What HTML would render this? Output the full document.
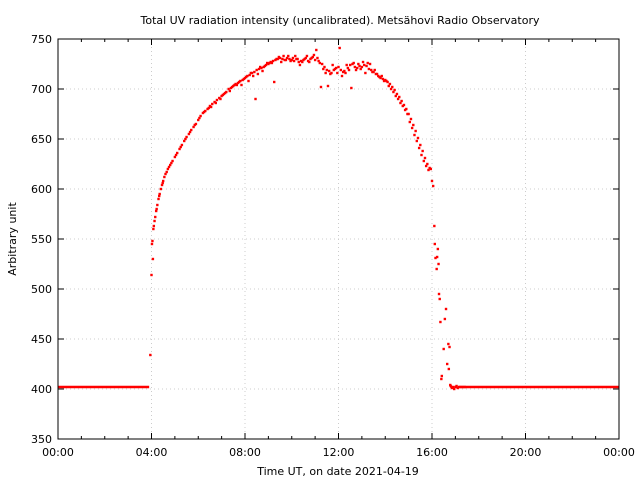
<!DOCTYPE html>
<html><head><meta charset="utf-8">
<style>
body{margin:0;background:#fff;}
svg{display:block;font-family:"DejaVu Sans","Liberation Sans",sans-serif;}
</style></head>
<body>
<svg id="chart" width="640" height="480">
<rect width="640" height="480" fill="#fff"/>
<text x="340" y="24" font-size="11" text-anchor="middle">Total UV radiation intensity (uncalibrated). Metsähovi Radio Observatory</text>
<text x="338" y="475" font-size="11" text-anchor="middle">Time UT, on date 2021-04-19</text>
<text transform="translate(16,239) rotate(-90)" font-size="11" text-anchor="middle">Arbitrary unit</text>
<g id="grid"></g><g id="ticks"></g><g id="marks"></g>
<rect x="58" y="39" width="561" height="400" fill="none" stroke="#000" stroke-width="1"/>
</svg>
<script>
const xTickLabels=["00:00","04:00","08:00","12:00","16:00","20:00","00:00"];
const xTickHours=[0,4,8,12,16,20,24];
const yTicks=[350,400,450,500,550,600,650,700,750];
const baselineStart=[0,17.1];
const baselineEnd=[3.9,24];
const baselineValue=[402,402];
const dayTimes=[3.95,4.0,4.02,4.04,4.06,4.08,4.1,4.13,4.16,4.2,4.25,4.3,4.35,4.4,4.45,4.5,4.55,4.6,4.7,4.8,4.9,5.0,5.1,5.2,5.3,5.4,5.5,5.6,5.7,5.8,5.9,6.0,6.1,6.2,6.3,6.4,6.5,6.6,6.7,6.8,6.9,7.0,7.1,7.2,7.3,7.4,7.5,7.6,7.7,7.8,7.9,8.0,8.1,8.2,8.3,8.4,8.45,8.5,8.6,8.7,8.8,8.9,9.0,9.1,9.2,9.25,9.3,9.4,9.5,9.6,9.7,9.8,9.9,10.0,10.1,10.2,10.3,10.4,10.5,10.6,10.7,10.8,10.9,11.0,11.05,11.1,11.2,11.25,11.3,11.4,11.5,11.55,11.6,11.7,11.8,11.9,12.0,12.05,12.1,12.2,12.3,12.4,12.5,12.55,12.6,12.7,12.8,12.9,13.0,13.1,13.2,13.3,13.4,13.5,13.6,13.7,13.8,13.9,14.0,14.1,14.2,14.3,14.4,14.5,14.6,14.7,14.8,14.9,15.0,15.1,15.2,15.3,15.4,15.5,15.6,15.7,15.8,15.9,16.0,16.05,16.1,16.12,16.15,16.2,16.22,16.25,16.28,16.3,16.33,16.36,16.4,16.42,16.5,16.55,16.6,16.65,16.7,16.72,16.75,16.78,16.8,16.83,16.86,16.9,16.95,17.0,17.05,17.1,17.2,17.3,17.4,17.5,17.6,17.7,17.8,17.9];
const dayValues=[434,514,545,548,530,560,563,568,572,578,584,590,595,600,604,608,612,615,620,624,628,632,636,640,644,648,652,655,659,662,665,669,673,676,678,680,683,685,687,689,691,693,695,697,700,701,703,705,706,708,709,711,713,714,716,717,690,719,720,721,722,724,725,727,728,707,729,730,731,730,729,731,730,729,728,730,727,728,729,731,728,730,732,729,739,731,726,702,725,722,719,703,718,716,719,721,722,741,719,717,716,721,724,701,725,722,721,723,722,724,723,720,719,717,715,713,711,710,709,707,705,702,699,695,692,688,684,680,675,670,664,658,651,644,638,631,625,621,608,603,563,545,531,520,532,540,525,495,490,467,410,413,440,470,480,425,445,420,442,404,403,402,401,402,400,402,403,401,402,402,402];
const extraTimes=[4.22,4.33,4.48,4.65,4.75,4.85,5.05,5.25,5.45,5.65,5.85,6.05,6.25,6.45,6.55,6.75,6.95,7.05,7.15,7.35,7.45,7.55,7.65,7.75,7.85,7.95,8.05,8.15,8.25,8.35,8.55,8.65,8.75,8.85,8.95,9.05,9.15,9.35,9.45,9.55,9.65,9.75,9.85,9.95,10.05,10.15,10.25,10.35,10.45,10.55,10.65,10.75,10.85,10.95,11.15,11.35,11.45,11.65,11.75,11.85,11.95,12.15,12.25,12.35,12.45,12.65,12.75,12.85,12.95,13.05,13.15,13.25,13.35,13.45,13.55,13.65,13.75,13.85,13.95,14.05,14.15,14.25,14.35,14.45,14.55,14.65,14.75,14.85,14.95,15.05,15.15,15.25,15.35,15.45,15.55,15.65,15.75,15.85,15.95];
const extraValues=[580,593,606,617,622,626,634,642,650,657,664,671,677,681,682,686,690,694,696,698,702,704,704,707,704,710,712,708,716,713,715,722,718,723,726,726,726,730,732,727,733,729,733,728,731,733,730,724,727,730,733,727,731,734,728,720,716,715,724,720,716,713,718,724,719,726,719,725,720,727,716,726,725,717,719,715,712,713,708,708,703,700,697,693,690,686,683,679,675,667,661,654,648,641,634,628,623,619,620];
const X=h=>58+h*(561/24);
const Y=v=>439-(v-350);
const ns="http://www.w3.org/2000/svg";
const grid=document.getElementById('grid'),ticks=document.getElementById('ticks'),marks=document.getElementById('marks');
function mk(tag,attrs,parent){const e=document.createElementNS(ns,tag);for(const k in attrs)e.setAttribute(k,attrs[k]);parent.appendChild(e);return e;}
yTicks.forEach(v=>{
  const y=Y(v);
  if(v>350&&v<750){const g=mk('line',{x1:58,x2:619,y1:y,y2:y,stroke:'#ccc','stroke-dasharray':'1,3'},grid);
  
  }
  mk('line',{x1:58,x2:64,y1:y,y2:y,stroke:'#000'},ticks);
  mk('line',{x1:613,x2:619,y1:y,y2:y,stroke:'#000'},ticks);
  const t=mk('text',{x:52,y:y+4,'font-size':11,'text-anchor':'end'},ticks);t.textContent=v;
  
  
});
for(let h=0;h<=24;h++){
  const x=X(h);const major=h%4===0;const L=major?6:3;
  mk('line',{x1:x,x2:x,y1:439,y2:439-L,stroke:'#000'},ticks);
  mk('line',{x1:x,x2:x,y1:39,y2:39+L,stroke:'#000'},ticks);
}
xTickHours.forEach((h,i)=>{
  const x=X(h);
  if(h>0&&h<24){const g=mk('line',{x1:x,x2:x,y1:39,y2:439,stroke:'#ccc','stroke-dasharray':'1,3'},grid);
  
  }
  const t=mk('text',{x:x,y:456,'font-size':11,'text-anchor':'middle'},ticks);t.textContent=xTickLabels[i];
  
  
});
baselineStart.forEach((s,i)=>{
  const l=mk('line',{x1:X(s),x2:X(baselineEnd[i]),y1:Y(baselineValue[i]),y2:Y(baselineValue[i]),stroke:'#f00','stroke-width':2.5},marks);
  
  
});
function drawPoints(times,values){
  times.forEach((t,i)=>{
    if(values[i]===undefined)return;
    const r=mk('rect',{x:X(t)-1.2,y:Y(values[i])-1.2,width:2.4,height:2.4,fill:'#f00'},marks);
    
    
  });
}
drawPoints(dayTimes,dayValues);
drawPoints(extraTimes,extraValues);
</script>
</body></html>
